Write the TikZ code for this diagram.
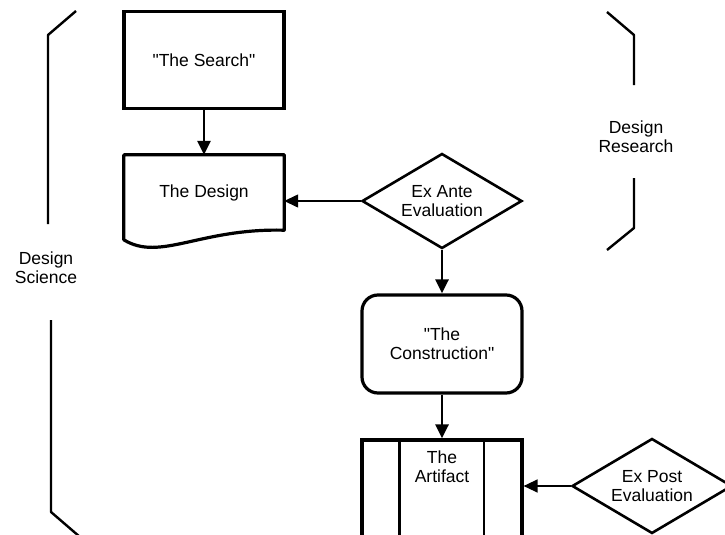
\documentclass[tikz,border=0pt]{standalone}
\usepackage{fontspec}
\setmainfont{Liberation Sans}
\usetikzlibrary{shapes.geometric,arrows.meta,calc}
\newcommand{\qq}{\XeTeXglyph\the\XeTeXcharglyph"22\relax}

\begin{document}
\begin{tikzpicture}[x=1pt,y=-1pt,
  every node/.style={font=\fontsize{17.5}{19}\selectfont,align=center},
  box/.style={draw,line width=3.2pt,minimum width=160pt,inner sep=0pt},
  dec/.style={diamond,draw,line width=2.6pt,minimum width=160pt,minimum height=95pt,aspect=1.7,inner sep=0pt},
  flow/.style={line width=2.8pt,-{Triangle[length=14pt,width=13pt]}},
  back/.style={line width=1.4pt,-{Triangle[length=14pt,width=13pt]}},
  brk/.style={line width=2.4pt,line join=round}]
  \clip (0,0) rectangle (725,535);
  % main column
  \node[box,minimum height=97pt] (search) at (204,60) {\qq The Search\qq};
  \node[minimum width=160pt,minimum height=75pt,inner sep=0pt] (design) at (204,192.5) {The Design};
  \draw[line width=3.2pt,line join=round] (design.south east) -- (design.north east) -- (design.north west) -- ++(0,85)
    .. controls (160,262) and (200,228) .. (design.south east) -- cycle;
  \node[dec] (ante) at (442,201) {Ex Ante\\Evaluation};
  \node[box,rounded corners=16pt,minimum height=98pt] (constr) at (442,344) {\qq The\\Construction\qq};
  \node[box,minimum height=130pt] (artifact) at (442,505) {};
  \node (artlabel) at (442,467) {The\\Artifact};
  \draw[line width=2.4pt] ([xshift=39pt]artifact.north west) -- ([xshift=39pt]artifact.south west);
  \draw[line width=2pt] ([xshift=-40pt]artifact.north east) -- ([xshift=-40pt]artifact.south east);
  \node[dec] (post) at (652,486) {Ex Post\\Evaluation};
  % connectors
  \draw[flow] (search.south) -- (design.north);
  \draw[back] (ante.west) -- (ante.west -| design.east);
  \draw[flow] (ante.south) -- (constr.north);
  \draw[flow] (constr.south) -- (artifact.north);
  \draw[back] (post.west) -- (post.west -| artifact.east);
  % brackets
  \node (dsci) at (46,268) {Design\\Science};
  \node (dres) at (636,137) {Design\\Research};
  \draw[brk] (76,11) -- (48,35) -- (48,224);
  \draw[brk] (51,320) -- (51,512) -- (80,537);
  \draw[brk] (607,12) -- (634,35) -- (634,85);
  \draw[brk] (634,178) -- (634,228) -- (607,250);
\end{tikzpicture}
\end{document}
